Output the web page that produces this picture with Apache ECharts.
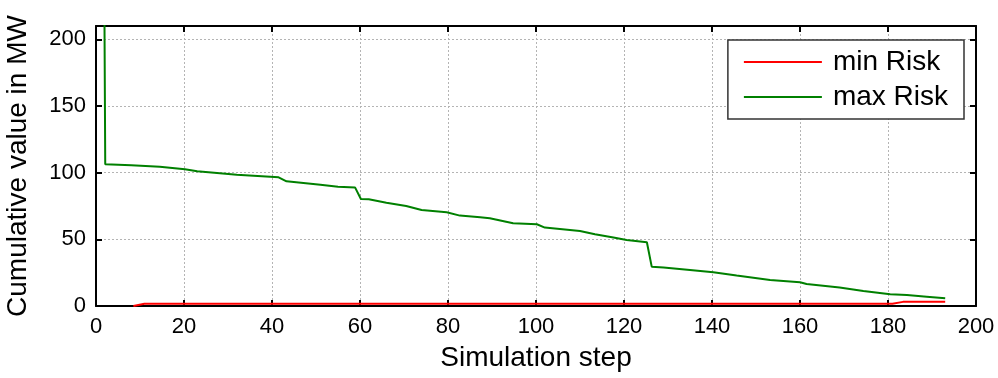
<!DOCTYPE html>
<html>
<head>
<meta charset="utf-8">
<script src="https://cdn.jsdelivr.net/npm/echarts@6/dist/echarts.min.js"></script>
<style>
  html, body { margin: 0; padding: 0; background: #fff; }
  #chart { width: 998px; height: 378px; }
</style>
</head>
<body>
<div id="chart"></div>
<script>
// ---- data ----
const seriesNames = ["min Risk", "max Risk"];
const xTicks = [0, 20, 40, 60, 80, 100, 120, 140, 160, 180, 200];
const yTicks = [0, 50, 100, 150, 200];

const minRiskSteps  = [8.5, 11, 40, 80, 120, 160, 181, 183.4, 193];
const minRiskValues = [0, 1.7, 1.7, 1.7, 1.7, 1.7, 1.7, 3.1, 3.2];

const maxRiskSteps  = [1.9, 2.1, 8, 14.5, 20.2, 23, 32, 41.5, 43.3, 51, 55, 58.9, 60.2, 62, 66, 70.5, 74, 79.7, 82.7, 87.3, 89.5, 94.8, 100.2, 102, 110, 113.4, 117.6, 120.6, 125.2, 126.3, 129, 135, 140.3, 145.6, 153.2, 160, 161.5, 169, 174.4, 180.5, 184.3, 188.8, 193];
const maxRiskValues = [230, 106.3, 105.5, 104.5, 102.5, 101, 98.5, 96.5, 93.5, 91, 89.5, 88.8, 80.3, 80, 77.5, 75, 72, 70.3, 67.8, 66.5, 65.8, 62, 61.3, 58.8, 56.3, 53.8, 51.3, 49.5, 47.8, 29.5, 28.8, 27, 25.3, 22.8, 19.5, 17.8, 16.5, 13.8, 11.3, 8.8, 8.3, 7, 5.8];

const pair = (xs, ys) => xs.map((x, i) => [x, ys[i]]);

const FONT = "'Liberation Sans', Arial, sans-serif";
const chart = echarts.init(document.getElementById('chart'), null, { renderer: 'canvas' });

const frameLine = { show: true, onZero: false, lineStyle: { color: '#000', width: 2 } };
const tickIn = { show: true, inside: true, length: 6, lineStyle: { color: '#000', width: 2 } };

chart.setOption({
  animation: false,
  backgroundColor: '#fff',
  grid: { left: 96, right: 22, top: 26, bottom: 72, containLabel: false, outerBoundsMode: 'none' },
  legend: {
    data: seriesNames,
    orient: 'vertical',
    right: 34,
    top: 40,
    padding: [8, 16, 8, 16],
    itemGap: 7,
    itemWidth: 78,
    itemHeight: 2,
    icon: 'rect',
    backgroundColor: '#fff',
    borderColor: '#333333',
    borderWidth: 1.5,
    borderRadius: 0,
    textStyle: { fontFamily: FONT, fontSize: 28, color: '#000', padding: [0, 0, 0, 6], lineHeight: 28 }
  },
  xAxis: [
    {
      type: 'value', min: xTicks[0], max: xTicks[xTicks.length - 1], interval: 20,
      name: 'Simulation step', nameLocation: 'middle', nameGap: 38,
      nameTextStyle: { fontFamily: FONT, fontSize: 28, color: '#000' },
      axisLine: frameLine, axisTick: tickIn,
      axisLabel: { fontFamily: FONT, fontSize: 22, color: '#000', margin: 10 },
      splitLine: { show: true, lineStyle: { color: '#b4b4b4', type: [2, 2], width: 1 } }
    },
    {
      type: 'value', position: 'top', min: xTicks[0], max: xTicks[xTicks.length - 1], interval: 20,
      axisLine: frameLine, axisTick: tickIn, axisLabel: { show: false }, splitLine: { show: false }
    }
  ],
  yAxis: [
    {
      type: 'value', min: 0, max: 210, interval: 50,
      name: 'Cumulative value in MW', nameLocation: 'middle', nameGap: 64, nameRotate: 90,
      nameTextStyle: { fontFamily: FONT, fontSize: 28, color: '#000' },
      axisLine: frameLine, axisTick: tickIn,
      axisLabel: { fontFamily: FONT, fontSize: 22, color: '#000', margin: 10,
        formatter: v => (yTicks.indexOf(v) >= 0 ? String(v) : '') },
      splitLine: { show: true, lineStyle: { color: '#b4b4b4', type: [2, 2], width: 1 } }
    },
    {
      type: 'value', position: 'right', min: 0, max: 210, interval: 50,
      axisLine: frameLine, axisTick: tickIn, axisLabel: { show: false }, splitLine: { show: false }
    }
  ],
  series: [
    {
      name: seriesNames[0], type: 'line', showSymbol: false, symbol: 'none', clip: true,
      data: pair(minRiskSteps, minRiskValues),
      itemStyle: { color: '#ff0000' },
      lineStyle: { color: '#ff0000', width: 2 },
      z: 3
    },
    {
      name: seriesNames[1], type: 'line', showSymbol: false, symbol: 'none', clip: true,
      data: pair(maxRiskSteps, maxRiskValues),
      itemStyle: { color: '#008000' },
      lineStyle: { color: '#008000', width: 2 },
      z: 4
    }
  ]
});
</script>
</body>
</html>
